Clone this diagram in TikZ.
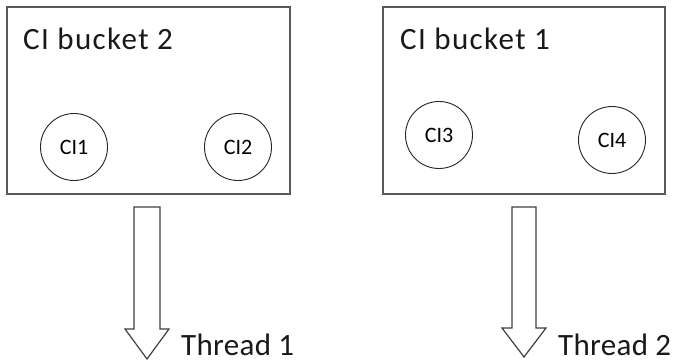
\documentclass[tikz,border=0pt]{standalone}
\usepackage{fontspec}
\setmainfont{Carlito}
\newfontfamily\titlefont[LetterSpace=4.5]{Carlito}
\newfontfamily\threadfont[LetterSpace=1]{Carlito}
\usetikzlibrary{positioning}

\tikzset{
  bucket/.style={draw=black!65, line width=1.6pt, rectangle, inner sep=0pt},
  citem/.style={draw=black!85, line width=0.9pt, circle, minimum size=67pt, inner sep=0pt, font=\fontsize{22}{24}\selectfont},
  title/.style={anchor=base west, inner sep=0pt, font=\titlefont\fontsize{31}{36}\selectfont, text=black!90},
  threadlabel/.style={anchor=base west, inner sep=0pt, font=\threadfont\fontsize{31}{34}\selectfont, text=black!90},
  blockarrow/.style={draw=black!75, line width=1.2pt, line join=miter, fill=white}
}

\begin{document}
\begin{tikzpicture}[x=1pt,y=-1pt]

\useasboundingbox (0,0) rectangle (673,362);

% Buckets
\node[bucket, minimum width=283pt, minimum height=187pt] (b2) at (148.5,100.5) {};
\node[bucket, minimum width=282pt, minimum height=187pt] (b1) at (524,100.5) {};

% Bucket titles
\node[title] (t2) at (23,49) {CI bucket 2};
\node[title] (t1) at (400,49) {CI bucket 1};

% Items
\node[citem] (ci1) at (74,147) {CI1};
\node[citem] (ci2) at (238,147) {CI2};
\node[citem] (ci3) at (439,135) {CI3};
\node[citem] (ci4) at (612,140) {CI4};

% Block arrows below the buckets
\coordinate (s2) at (147,207);
\coordinate (s1) at (524,207);
\draw[blockarrow] (s2) ++(-13,0) -- ++(0,122) -- ++(-9,0) -- ++(22,30)
  -- ++(22,-30) -- ++(-9,0) -- ++(0,-122) -- cycle;
\draw[blockarrow] (s1) ++(-12,0) -- ++(0,121) -- ++(-10,0) -- ++(22,29)
  -- ++(22,-29) -- ++(-10,0) -- ++(0,-121) -- cycle;

% Thread labels
\node[threadlabel] (th1) at (181,355) {Thread 1};
\node[threadlabel] (th2) at (558,355) {Thread 2};

\end{tikzpicture}
\end{document}
